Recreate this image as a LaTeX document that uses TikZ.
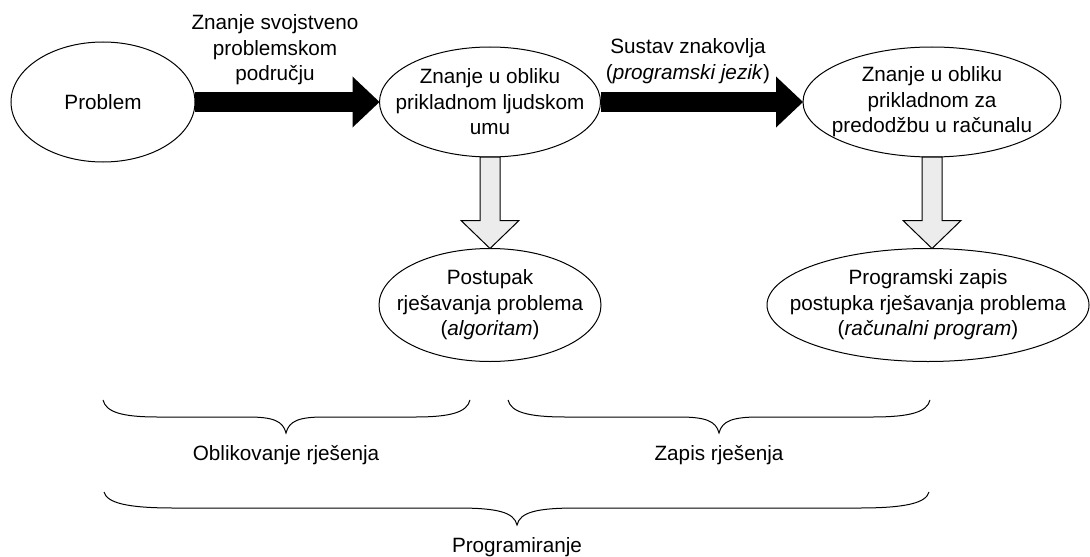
\documentclass[tikz,border=0pt]{standalone}
\usepackage{fontspec}
\setmainfont{Liberation Sans}
\usetikzlibrary{shapes.geometric, arrows.meta, calc}

\tikzset{
  oval/.style = {draw, ellipse, inner sep=0pt, outer sep=0pt, line width=0.5pt},
  tekst/.style = {align=center, inner sep=0pt},
  crnastrelica/.style = {line width=9.5pt, -{Triangle[length=13.5pt, width=25.5pt, line width=0pt]}},
  sivastrelica/.style = {draw, fill=gray!15, line width=0.5pt, line join=miter},
  zagradaline/.style = {line width=0.5pt}
}

% x1, x2, xm, y kraja, y crte, y vrha, kraj, sredina
\newcommand{\zagrada}[8]{%
\draw[zagradaline] (#1,#4) .. controls ({#1+3},{#5-5}) and ({#1+#7/3},#5) .. ({#1+#7},#5)
  -- ({#3-#8},#5) .. controls ({#3-#8/3},#5) and ({#3-3},{#5+4}) .. (#3,#6)
  .. controls ({#3+3},{#5+4}) and ({#3+#8/3},#5) .. ({#3+#8},#5)
  -- ({#2-#7},#5) .. controls ({#2-#7/3},#5) and ({#2-3},{#5-5}) .. (#2,#4);}

\begin{document}
\begin{tikzpicture}[x=0.5pt, y=-0.5pt, font=\fontsize{10.35}{12.75}\selectfont]
\useasboundingbox (0,0) rectangle (1090,556);

\node[oval, minimum width=92pt, minimum height=60pt] (problem) at (103,102) {};
\node[tekst] (problemt) at (problem) {Problem};
\node[oval, minimum width=110.5pt, minimum height=55pt] (ljud) at (490,102) {};
\node[tekst] (ljudt) at (ljud) {Znanje u obliku\\ prikladnom ljudskom\\ umu};
\node[oval, minimum width=129pt, minimum height=55pt] (rac) at (932,102) {};
\node[tekst] (ract) at (rac) {Znanje u obliku\\ prikladnom za\\ predodžbu u računalu};
\node[oval, minimum width=111pt, minimum height=56.5pt] (alg) at (490,305) {};
\node[tekst] (algt) at (alg) {Postupak\\ rješavanja problema\\ (\textit{algoritam})};
\node[oval, minimum width=161pt, minimum height=56.5pt] (prog) at (928,305) {};
\node[tekst] (progt) at (prog) {Programski zapis\\ postupka rješavanja problema\\ (\textit{računalni program})};

\draw[crnastrelica] (problem) -- (ljud);
\draw[crnastrelica] (ljud) -- (rac);
\node[tekst] (podrucje) at (275,50) {Znanje svojstveno\\ problemskom\\ području};
\node[tekst] (znakovlje) at (688,61) {Sustav znakovlja\\ (\textit{programski jezik})};

\draw[sivastrelica] ($(ljud.south)+(-10,0)$) -- ($(ljud.south |- alg.north)+(-10,-28)$) -- ++(-19,0)
  -- (ljud.south |- alg.north) -- ++(29,-28) -- ++(-19,0) -- ($(ljud.south)+(10,0)$) -- cycle;
\draw[sivastrelica] ($(rac.south)+(-10,0)$) -- ($(rac.south |- prog.north)+(-10,-28)$) -- ++(-19,0)
  -- (rac.south |- prog.north) -- ++(29,-28) -- ++(-19,0) -- ($(rac.south)+(10,0)$) -- cycle;

\zagrada{103}{470}{286}{400}{417}{433}{55}{38}
\node[tekst] (oblikovanje) at (286,455) {Oblikovanje rješenja};
\zagrada{508}{930}{719}{400}{417}{433}{58}{40}
\node[tekst] (zapis) at (719,455) {Zapis rješenja};
\zagrada{104}{929}{517}{492}{508}{525}{70}{60}
\node[tekst] (programiranje) at (517,547) {Programiranje};
\end{tikzpicture}
\end{document}
